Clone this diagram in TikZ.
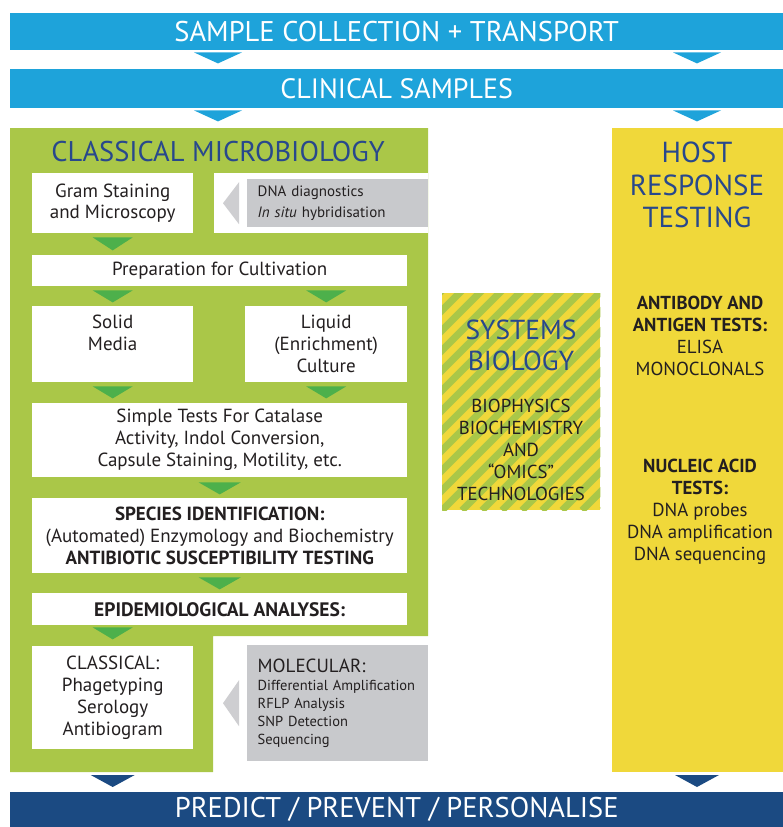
\documentclass[tikz,border=0pt]{standalone}
\usepackage{fontspec}
\setmainfont{PT Sans}
\usetikzlibrary{positioning,calc}
\hyphenpenalty=10000

\definecolor{skyblue}{RGB}{30,163,218}
\definecolor{navy}{RGB}{27,74,130}
\definecolor{leaf}{RGB}{170,199,72}
\definecolor{arrowgreen}{RGB}{77,176,75}
\definecolor{sun}{RGB}{240,216,58}
\definecolor{stone}{RGB}{200,201,204}
\definecolor{titleblue}{RGB}{40,72,140}
\definecolor{ink}{RGB}{35,31,32}

\tikzset{
  box/.style={anchor=north west, inner sep=0pt, align=center, text=ink,
    font=\fontsize{19}{22}\selectfont},
  whitebox/.style={box, fill=white},
  greybox/.style={box, fill=stone, align=left, inner xsep=10.5pt},
  bar/.style={anchor=north west, inner sep=0pt, text=white,
    font=\fontsize{28.5}{30}\selectfont},
  heading/.style={text=titleblue, align=center, inner sep=0pt},
  plain/.style={text=ink, align=center, inner sep=0pt,
    font=\fontsize{18.8}{22}\selectfont},
}

% downward flow marker: colour, tip-top point, half width, height
\newcommand{\downtri}[4]{%
  \fill[#1] ($(#2)+(-#3,0)$) -- ($(#2)+(#3,0)$) -- ($(#2)+(0,#4)$) -- cycle;}
% grey marker pointing left into the box on its left
\newcommand{\lefttri}[2]{%
  \fill[stone!90!white] ($(#1.west)+(-8,-#2)$) -- ($(#1.west)+(-8,#2)$)
    -- ($(#1.west)+(-24,0)$) -- cycle;}

\begin{document}
\begin{tikzpicture}[x=1pt,y=-1pt]
\useasboundingbox (0,0) rectangle (783,827);

% blue bars
\node[bar, fill=skyblue, minimum width=773pt, minimum height=37pt] (transport) at (10,13) {SAMPLE COLLECTION + TRANSPORT};
\node[bar, fill=skyblue, minimum width=773pt, minimum height=39pt, font=\fontsize{28}{30}\selectfont] (clinical) at (10,69) {CLINICAL SAMPLES};
\node[bar, fill=navy, minimum width=773pt, minimum height=35pt] (predict) at (10,792) {PREDICT / PREVENT / PERSONALISE};

% classical microbiology column
\fill[leaf] (10,128) -| (428,636) -| (213,772) -| (10,128) -- cycle;
\fill[white] (214,173) rectangle (428,233);
\node[heading, font=\fontsize{28.5}{30}\selectfont] (cmtitle) at (218,152) {CLASSICAL MICROBIOLOGY};

\node[whitebox, minimum width=161pt, minimum height=60pt, font=\fontsize{19}{21}\selectfont] (gram) at (32,173) {Gram Staining\\and Microscopy};
\node[greybox, text width=160pt, minimum height=48pt, font=\fontsize{15}{21}\selectfont] (dna) at (247,179) {DNA diagnostics\\\textit{In situ} hybridisation};
\lefttri{dna}{21}

\node[whitebox, minimum width=375pt, minimum height=31pt] (prep) at (32,255) {Preparation for Cultivation};
\node[whitebox, minimum width=161pt, minimum height=76pt] (solid) at (32,306) {Solid\\Media\\\mbox{}};
\node[whitebox, minimum width=162pt, minimum height=76pt] (liquid) at (245,306) {Liquid\\(Enrichment)\\Culture};
\node[whitebox, minimum width=375pt, minimum height=74pt] (simple) at (32,403) {Simple Tests For Catalase\\Activity, Indol Conversion,\\Capsule Staining, Motility, etc.};
\node[whitebox, minimum width=375pt, minimum height=75pt] (species) at (32,498) {\textbf{SPECIES IDENTIFICATION:}\\(Automated) Enzymology and Biochemistry\\\textbf{ANTIBIOTIC SUSCEPTIBILITY TESTING}};
\node[whitebox, minimum width=375pt, minimum height=32pt, font=\bfseries\fontsize{19.5}{22}\selectfont] (epi) at (32,593) {EPIDEMIOLOGICAL ANALYSES:};
\node[whitebox, minimum width=161pt, minimum height=103pt] (classical) at (32,646) {CLASSICAL:\\Phagetyping\\Serology\\Antibiogram};
\node[greybox, text width=160pt, minimum height=116pt, font=\fontsize{14.5}{18}\selectfont] (molecular) at (247,645) {{\fontsize{19}{18}\selectfont MOLECULAR:}\\Differential Amplification\\RFLP Analysis\\SNP Detection\\Sequencing};
\lefttri{molecular}{23}

% green flow markers
\downtri{arrowgreen}{$(gram.south)+(0,4)$}{20}{13}
\downtri{arrowgreen}{$(prep.south -| solid)+(0,4)$}{20}{12}
\downtri{arrowgreen}{$(prep.south -| liquid)+(0,4)$}{20}{12}
\downtri{arrowgreen}{$(solid.south)+(0,4)$}{20}{12}
\downtri{arrowgreen}{$(liquid.south)+(0,4)$}{20}{12}
\downtri{arrowgreen}{$(simple.south)+(0,5)$}{21}{12}
\downtri{arrowgreen}{$(species.south)+(0,4)$}{21}{12}
\downtri{arrowgreen}{$(epi.south -| classical)+(0,2)$}{20}{12}

% systems biology, striped
\node[anchor=north west, inner sep=0pt, fill=sun, minimum width=158pt, minimum height=217pt] (systems) at (442,293) {};
\begin{scope}
  \clip (systems.south west) rectangle (systems.north east);
  \foreach \s in {-240,-220,...,180}
    \draw[leaf, line width=7pt] ($(systems.south west)+(\s,0)$) -- ++(260,-260);
\end{scope}
\node[heading, font=\fontsize{27.5}{31}\selectfont] (systitle) at (521,345) {SYSTEMS\\BIOLOGY};
\node[plain] (omics) at (521,450) {BIOPHYSICS\\BIOCHEMISTRY\\AND\\“OMICS”\\TECHNOLOGIES};

% host response column
\fill[sun] (612,128) rectangle (783,772);
\node[heading, font=\fontsize{29}{32.5}\selectfont] (hosttitle) at (697,185) {HOST\\RESPONSE\\TESTING};
\node[plain] (antibody) at (700,336) {\textbf{ANTIBODY AND}\\\textbf{ANTIGEN TESTS:}\\ELISA\\MONOCLONALS};
\node[plain] (nucleic) at (700,512) {\textbf{NUCLEIC ACID}\\\textbf{TESTS:}\\DNA probes\\DNA amplification\\DNA sequencing};

% blue flow markers
\downtri{skyblue}{$(transport.south -| cmtitle)+(0,2)$}{24}{11}
\downtri{skyblue}{$(transport.south -| hosttitle)+(0,2)$}{24}{11}
\downtri{skyblue}{$(clinical.south -| cmtitle)+(0,2)$}{24}{11}
\downtri{skyblue}{$(clinical.south -| hosttitle)+(0,2)$}{24}{11}
\downtri{navy}{$(predict.north -| classical)+(0,-17)$}{22}{12}
\downtri{navy}{$(predict.north -| hosttitle)+(0,-17)$}{22}{12}
\end{tikzpicture}
\end{document}
